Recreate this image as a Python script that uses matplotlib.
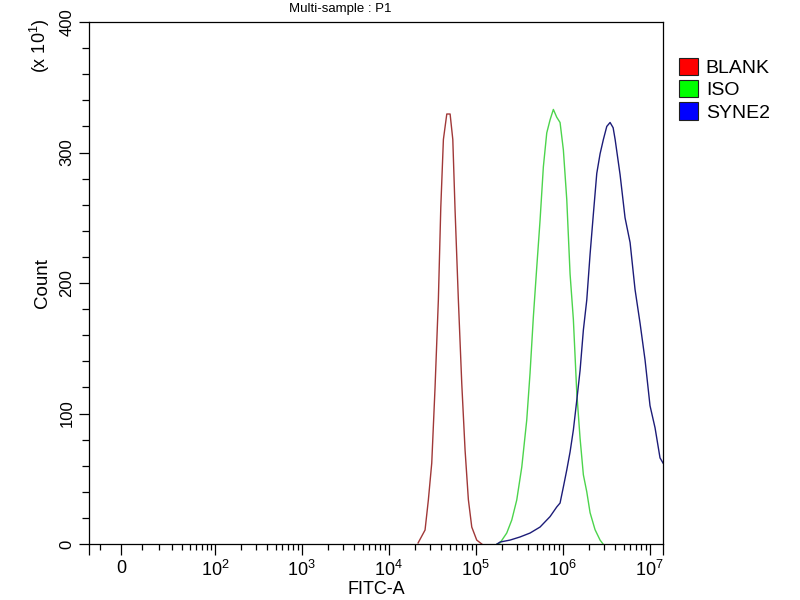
import matplotlib
matplotlib.use("Agg")
import matplotlib.pyplot as plt
from matplotlib.patches import Patch
from matplotlib.ticker import MultipleLocator, FixedLocator
import numpy as np

plt.rcParams['font.family'] = ['Liberation Sans', 'DejaVu Sans']
plt.rcParams['mathtext.fontset'] = 'custom'
plt.rcParams['mathtext.rm'] = 'Liberation Sans'
plt.rcParams['mathtext.it'] = 'Liberation Sans:italic'

# histogram traces
# x values are log10(FITC-A), counts are in units of 10 events
blank_log = [4.337, 4.417, 4.455, 4.494, 4.532, 4.570, 4.598, 4.628, 4.667,
             4.705, 4.736, 4.762, 4.800, 4.839, 4.877, 4.915, 4.954, 5.011,
             5.069]
blank_count = [0.8, 10.7, 33.7, 62, 120, 187, 258, 310, 329.5,
               329.5, 310, 256, 187, 123, 72, 34, 13, 3,
               0]

iso_log = [5.245, 5.279, 5.356, 5.414, 5.471, 5.529, 5.586, 5.624, 5.662,
           5.701, 5.739, 5.777, 5.816, 5.854, 5.892, 5.931, 5.969, 6.007,
           6.046, 6.084, 6.122, 6.161, 6.199, 6.237, 6.276, 6.314, 6.371,
           6.429, 6.463]
iso_count = [0, 0.8, 8.4, 18.4, 33.7, 59, 95, 131, 174,
             212, 248, 289, 315, 325, 333, 327, 323, 302,
             264, 207, 172, 116, 81, 53, 40, 24, 11,
             3, 0]

syne2_log = [5.245, 5.279, 5.394, 5.509, 5.624, 5.739, 5.854, 5.931, 5.969,
             6.007, 6.046, 6.084, 6.122, 6.161, 6.199, 6.237, 6.276, 6.314,
             6.352, 6.391, 6.429, 6.467, 6.506, 6.544, 6.579, 6.602, 6.659,
             6.716, 6.774, 6.831, 6.889, 6.946, 7.003, 7.061, 7.118, 7.153]
syne2_count = [0, 1.5, 3, 5.4, 8.4, 13, 21, 28.4, 31.4,
               43.7, 56.7, 70.5, 87.4, 110, 133, 164, 187, 222,
               253, 284, 299, 310, 320, 323, 319, 310, 283,
               250, 231, 195, 169, 141, 106, 89, 66, 62]

legend_names = ['BLANK', 'ISO', 'SYNE2']
legend_colors = ['#ff0000', '#00ff00', '#0000ff']
line_colors = ['#a03838', '#4cd44c', '#1c1c78']

x_major = [0, 1e2, 1e3, 1e4, 1e5, 1e6, 1e7]
x_major_labels = ['0', '$10^{2}$', '$10^{3}$', '$10^{4}$',
                  '$10^{5}$', '$10^{6}$', '$10^{7}$']
y_major = [0, 100, 200, 300, 400]

# width of the linear part of the display scale
C = 16.75
x_lo, x_hi = -16.0, 1.42e7


def forward(x):
    """asinh display, close to log10 above 10^2"""
    return np.arcsinh(np.asarray(x) / C) / np.log(10)


def inverse(y):
    return C * np.sinh(np.asarray(y) * np.log(10))


fig = plt.figure(figsize=(8, 6), dpi=100)
ax = fig.add_axes([0.11125, 0.09333, 0.7175, 0.87])
ax.set_xscale('function', functions=(forward, inverse))

# plot the traces
for lx, cnt, col in zip([blank_log, iso_log, syne2_log],
                        [blank_count, iso_count, syne2_count], line_colors):
    ax.plot(10 ** np.array(lx), cnt, '-', color=col, lw=1.0)

ax.set_xlim(x_lo, x_hi)
ax.set_ylim(0, 400)

# x ticks
minor = [-10] + [k * 10 for k in range(1, 10)]
minor += [k * 10 ** d for d in range(2, 7) for k in range(2, 10)]
ax.xaxis.set_major_locator(FixedLocator([x_lo] + x_major + [x_hi]))
ax.set_xticklabels([''] + x_major_labels + [''])
ax.xaxis.set_minor_locator(FixedLocator(minor))
ax.tick_params(axis='x', which='major', length=8, width=0.9, labelsize=13)
ax.tick_params(axis='x', which='minor', length=4.5, width=0.9)

# y ticks
ax.set_yticks(y_major)
ax.yaxis.set_minor_locator(MultipleLocator(20))
ax.tick_params(axis='y', which='major', length=7, width=0.9, labelsize=12)
ax.tick_params(axis='y', which='minor', length=5, width=0.9)
for lbl in ax.get_yticklabels():
    lbl.set_rotation(90)
    lbl.set_va('center')

for s in ax.spines.values():
    s.set_linewidth(0.9)

# labels
ax.set_xlabel('FITC-A', fontsize=13, labelpad=1)
ax.set_ylabel('Count', fontsize=13.5, labelpad=6)
fig.text(40 / 800, 1 - 46 / 600, '(x 10$^{1}$)', rotation=90,
         ha='center', va='center', fontsize=13)
fig.text(340 / 800, 1 - 9 / 600, 'Multi-sample : P1', ha='center',
         va='center', fontsize=9.5)

# legend
handles = [Patch(facecolor=c, edgecolor='#202020', lw=0.8) for c in legend_colors]
fig.legend(handles, legend_names, loc='upper left',
           bbox_to_anchor=(665 / 800, 1 - 44 / 600), frameon=False,
           fontsize=14, handlelength=1.0, handleheight=1.0,
           handletextpad=0.4, labelspacing=0.15, borderpad=0.2)

# write picture
fig.savefig('out.png', dpi=100)
plt.close(fig)
